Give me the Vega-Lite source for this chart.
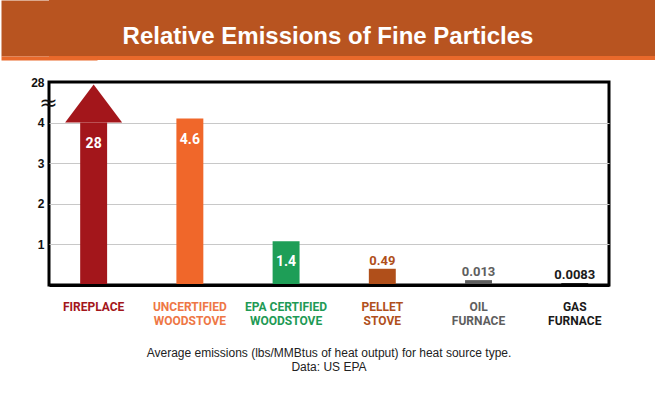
{
  "$schema": "https://vega.github.io/schema/vega-lite/v6.json",
  "padding": 0,
  "background": "white",
  "spacing": 14,
  "config": {"view": {"stroke": null}, "font": "Liberation Sans"},
  "vconcat": [
    {
      "spacing": 0,
      "vconcat": [
        {
          "width": 608,
          "height": 56,
          "view": {"fill": "#B85420", "stroke": null},
          "data": {"values": [{"t": "Relative Emissions of Fine Particles"}]},
          "mark": {"type": "text", "color": "white", "font": "Liberation Sans", "fontWeight": "bold", "fontSize": 24, "baseline": "alphabetic", "dy": -12, "dx": -25},
          "encoding": {
            "text": {"field": "t"},
            "y": {"datum": 0, "type": "quantitative", "scale": {"domain": [0, 1]},
                  "axis": {"title": null, "labels": false, "ticks": false, "grid": false, "domain": true, "domainColor": "#B85420", "domainWidth": 96}}
          }
        },
        {
          "width": 608,
          "height": 4,
          "view": {"fill": "#E9692B", "stroke": null},
          "data": {"values": [{"t": ""}]},
          "mark": {"type": "text", "fontSize": 0},
          "encoding": {
            "text": {"field": "t"},
            "y": {"datum": 0, "type": "quantitative", "scale": {"domain": [0, 1]},
                  "axis": {"title": null, "labels": false, "ticks": false, "grid": false, "domain": true, "domainColor": "#E9692B", "domainWidth": 96}}
          }
        }
      ]
    },
    {
      "width": 560,
      "height": 203,
      "view": {"stroke": "black", "strokeWidth": 3},
      "title": {
        "text": "Average emissions (lbs/MMBtus of heat output) for heat source type.",
        "subtitle": "Data: US EPA",
        "orient": "bottom",
        "anchor": "middle",
        "font": "Liberation Sans",
        "fontSize": 12,
        "fontWeight": "normal",
        "color": "#222222",
        "subtitleFont": "Liberation Sans",
        "subtitleFontSize": 12,
        "subtitleColor": "#222222",
        "subtitlePadding": 2,
        "offset": 22
      },
      "data": {
        "values": [
          {"source": "FIREPLACE", "label": "28", "height": 4},
          {"source": "UNCERTIFIED|WOODSTOVE", "label": "4.6", "height": 4.1},
          {"source": "EPA CERTIFIED|WOODSTOVE", "label": "1.4", "height": 1.08},
          {"source": "PELLET|STOVE", "label": "0.49", "height": 0.4},
          {"source": "OIL|FURNACE", "label": "0.013", "height": 0.12},
          {"source": "GAS|FURNACE", "label": "0.0083", "height": 0.05}
        ]
      },
      "encoding": {
        "x": {
          "field": "source",
          "type": "nominal",
          "sort": null,
          "scale": {"paddingInner": 0.72, "paddingOuter": 0.27, "align": 0.6},
          "axis": {
            "title": null,
            "labelAngle": 0,
            "labelExpr": "split(datum.label, '|')",
            "labelFont": "Roboto",
            "labelFontWeight": "bold",
            "labelFontSize": 12,
            "labelLineHeight": 14,
            "labelPadding": 16,
            "ticks": false,
            "domain": true,
            "domainColor": "black",
            "domainWidth": 3,
            "zindex": 1,
            "labelColor": {
              "condition": [
                {"test": "datum.value == 'FIREPLACE'", "value": "#A3161B"},
                {"test": "datum.value == 'UNCERTIFIED|WOODSTOVE'", "value": "#EE7745"},
                {"test": "datum.value == 'EPA CERTIFIED|WOODSTOVE'", "value": "#1E9A55"},
                {"test": "datum.value == 'PELLET|STOVE'", "value": "#B0501C"},
                {"test": "datum.value == 'OIL|FURNACE'", "value": "#5E5E5E"}
              ],
              "value": "#1A1A1A"
            }
          }
        },
        "y": {
          "field": "height",
          "type": "quantitative",
          "scale": {"domain": [0, 5], "nice": false},
          "axis": {
            "title": null,
            "values": [1, 2, 3, 4, 4.5, 5],
            "labelExpr": "datum.value == 5 ? '28' : datum.value == 4.5 ? '≈' : datum.label",
            "domain": false,
            "ticks": false,
            "labelOverlap": false,
            "labelColor": "#111111",
            "labelFont": {"condition": {"test": "datum.value == 4.5", "value": "DejaVu Sans"}, "value": "Liberation Sans"},
            "labelFontSize": {"condition": {"test": "datum.value == 4.5", "value": 22}, "value": 12},
            "labelFontWeight": {"condition": {"test": "datum.value == 4.5", "value": "normal"}, "value": "bold"},
            "labelAlign": {"condition": {"test": "datum.value == 4.5", "value": "center"}, "value": "right"},
            "labelPadding": {"condition": {"test": "datum.value == 4.5", "value": 1}, "value": 5},
            "gridColor": "#C8C8C8",
            "gridOpacity": {"condition": {"test": "datum.value > 4.1", "value": 0}, "value": 1},
            "minExtent": 47,
            "maxExtent": 47
          }
        },
        "color": {
          "field": "source",
          "type": "nominal",
          "sort": null,
          "scale": {
            "domain": ["FIREPLACE", "UNCERTIFIED|WOODSTOVE", "EPA CERTIFIED|WOODSTOVE", "PELLET|STOVE", "OIL|FURNACE", "GAS|FURNACE"],
            "range": ["#A3161B", "#F0672A", "#1E9E57", "#B04F1A", "#5E5E5E", "#1A1A1A"]
          },
          "legend": null
        }
      },
      "layer": [
        {"mark": {"type": "bar", "opacity": 1}},
        {
          "transform": [{"filter": "datum.source == 'FIREPLACE'"}],
          "mark": {"type": "point", "shape": "M-1,0L0,-1.333L1,0Z", "size": 3249, "filled": true, "opacity": 1, "strokeWidth": 0}
        },
        {
          "transform": [{"filter": "indexof(['FIREPLACE', 'UNCERTIFIED|WOODSTOVE', 'EPA CERTIFIED|WOODSTOVE'], datum.source) >= 0"}],
          "mark": {"type": "text", "font": "Roboto", "fontWeight": "bold", "fontSize": 14, "baseline": "middle"},
          "encoding": {
            "text": {"field": "label"},
            "color": {"value": "white"},
            "yOffset": {
              "condition": [
                {"test": "datum.source == 'FIREPLACE'", "value": 17},
                {"test": "datum.source == 'UNCERTIFIED|WOODSTOVE'", "value": 39}
              ],
              "value": 21
            }
          }
        },
        {
          "transform": [{"filter": "indexof(['FIREPLACE', 'UNCERTIFIED|WOODSTOVE', 'EPA CERTIFIED|WOODSTOVE'], datum.source) < 0"}],
          "mark": {"type": "text", "font": "Roboto", "fontWeight": "bold", "fontSize": 13, "baseline": "alphabetic", "dy": -4},
          "encoding": {"text": {"field": "label"}}
        }
      ]
    }
  ]
}
